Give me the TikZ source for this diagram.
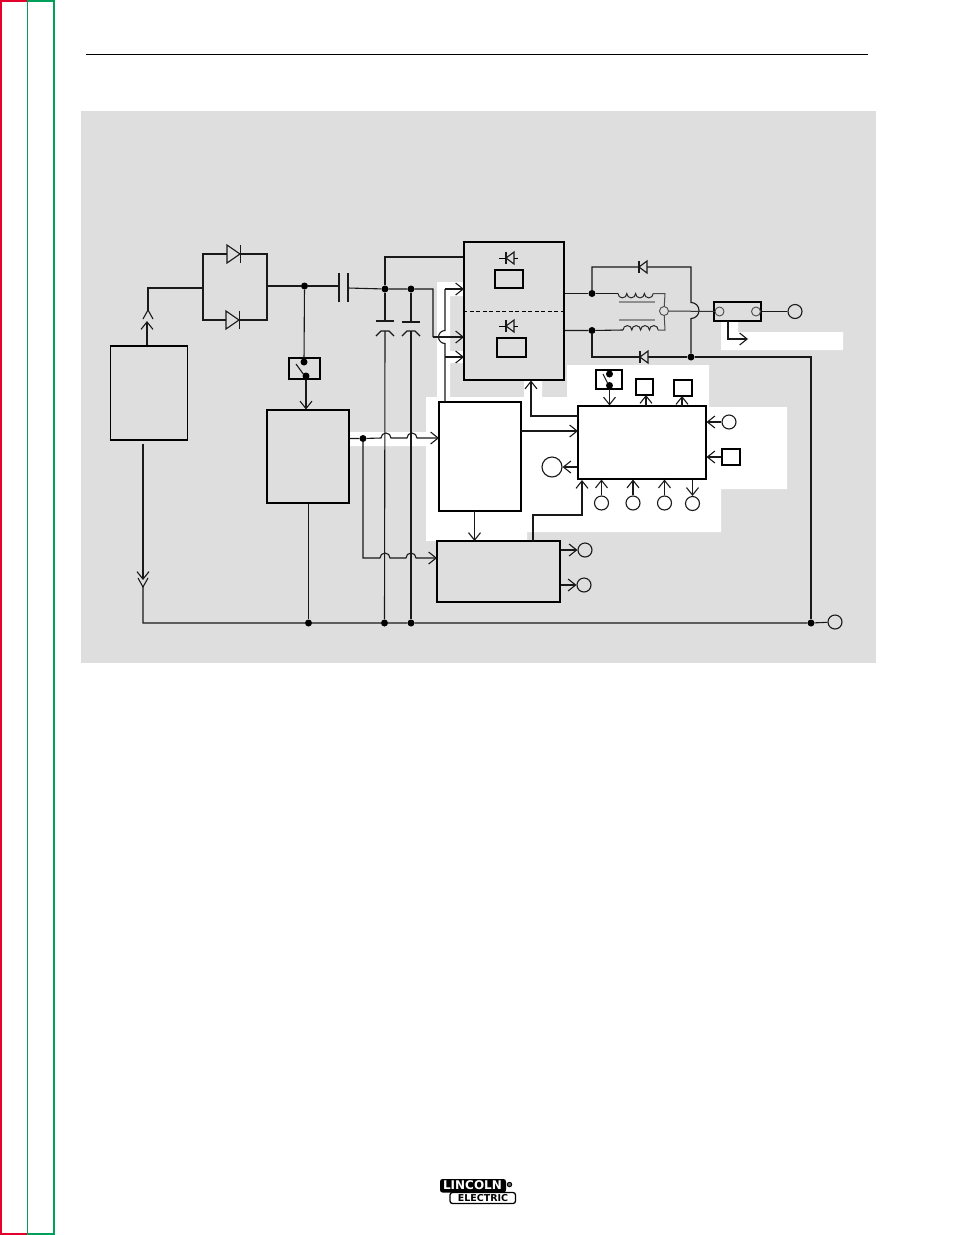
\documentclass[tikz,border=0pt]{standalone}
\usepackage{fontspec}
\setmainfont{DejaVu Sans}
\usetikzlibrary{arrows.meta,calc}
\definecolor{panel}{HTML}{DEDEDE}
\definecolor{framered}{HTML}{E4002B}
\definecolor{framegreen}{HTML}{00A05A}
\definecolor{coregrey}{HTML}{8E8E8E}
\tikzset{
  wire/.style={line width=1.1pt,draw=black!90},
  arrowed/.style={wire,-{Straight Barb[length=7.5pt,width=12pt,line width=1.1pt]}},
  blk/.style={draw=black,line width=1.05pt,inner sep=0pt,rectangle},
  term/.style={draw=black!90,line width=1.1pt,circle,inner sep=0pt,minimum size=14pt},
  smallterm/.style={draw=black!70,line width=.9pt,circle,inner sep=0pt,minimum size=9pt},
  jdot/.style={circle,fill=black,inner sep=0pt,minimum size=7pt},
  pics/diodeR/.style={code={
    \filldraw[wire,fill=panel] (0,-9)--(13,0)--(0,9)--cycle;
    \draw[wire] (13.5,-9)--(13.5,9);}},
  pics/diodeL/.style={code={
    \filldraw[wire,fill=panel] (8,-6)--(0,0)--(8,6)--cycle;
    \draw[wire] (0,-6)--(0,6);}},
  pics/chevUp/.style={code={\draw[wire] (-5,9)--(0,0)--(5,9);}},
  pics/chevDown/.style={code={\draw[wire] (-5,-9)--(0,0)--(5,-9);}},
  pics/coil/.style={code={
    \draw[line width=1pt,draw=black!85] (0,0) arc[start angle=180,end angle=360,radius=4.4pt]
      arc[start angle=180,end angle=360,radius=4.4pt]
      arc[start angle=180,end angle=360,radius=4.4pt]
      arc[start angle=180,end angle=360,radius=4.4pt];}},
  pics/coilB/.style={code={
    \draw[line width=1pt,draw=black!85] (0,0) arc[start angle=180,end angle=0,radius=4.4pt]
      arc[start angle=180,end angle=0,radius=4.4pt]
      arc[start angle=180,end angle=0,radius=4.4pt]
      arc[start angle=180,end angle=0,radius=4.4pt];}},
  pics/capCurved/.style={code={
    \draw[wire] (-9,5) -- (-4,0) -- (4,0) -- (9,5);}},
}
\begin{document}
\begin{tikzpicture}[x=1pt,y=-1pt]
\useasboundingbox (0,0) rectangle (954,1235);
% page frame
\fill[framered] (0,0) rectangle (2,1235);
\fill[framered] (0,0) rectangle (27,2);
\fill[framered] (0,1233) rectangle (27,1235);
\fill[framegreen] (27,0) rectangle (55,2);
\fill[framegreen] (27,1233) rectangle (55,1235);
\fill[framegreen] (27,0) rectangle (28,1235);
\fill[framegreen] (53,0) rectangle (55,1235);
\draw[line width=1pt] (86,54.5) -- (868,54.5);
% panel
\fill[panel] (81,111) rectangle (876,663);
\fill[white] (437,282)--(463,282)--(463,296)--(450,296)--(450,351)--(463,351)--(463,363)--(450,363)
  --(450,397)--(524,397)--(524,381)--(542,381)--(542,397)--(567,397)--(567,365)--(709,365)--(709,407)
  --(787,407)--(787,489)--(721,489)--(721,532)--(527,532)--(527,541)--(426,541)--(426,446)--(350,446)
  --(350,432)--(426,432)--(426,397)--(437,397)--cycle;
\fill[white] (721,321)--(738,321)--(738,332)--(843,332)--(843,350)--(721,350)--cycle;
% blocks
\node[blk,minimum width=77pt,minimum height=94pt] (boxA) at (149,393) {};
\node[blk,minimum width=82pt,minimum height=93pt] (boxB) at (308,456.5) {};
\node[blk,minimum width=100pt,minimum height=138pt] (boxC) at (514,311) {};
\node[blk,minimum width=82pt,minimum height=109pt] (boxE) at (480,456.5) {};
\node[blk,minimum width=123pt,minimum height=61pt] (boxF) at (498.5,571.5) {};
\node[blk,minimum width=128pt,minimum height=73pt] (boxG) at (642,442.5) {};
\node[blk,minimum width=28pt,minimum height=18pt] (rectU) at (509,279) {};
\node[blk,minimum width=29pt,minimum height=19pt] (rectL) at (511.5,347.5) {};
\node[blk,minimum width=47pt,minimum height=19pt] (boxD) at (737.5,311.5) {};
\node[blk,minimum width=31pt,minimum height=21pt] (swA) at (304.5,368.5) {};
\node[blk,minimum width=26pt,minimum height=19pt] (swB) at (609,379.5) {};
\node[blk,minimum width=17pt,minimum height=16pt] (sqA) at (644.5,387) {};
\node[blk,minimum width=18pt,minimum height=16pt] (sqB) at (683,388) {};
\node[blk,minimum width=18pt,minimum height=16pt] (sqC) at (731,457) {};
% terminals
\node[term] (tOut) at (795,311.5) {};
\node[term] (tGnd) at (835,622) {};
\node[term] (tR) at (729,422) {};
\node[term,minimum size=20pt] (tBig) at (552,467) {};
\node[term] (tB1) at (601.5,503) {};
\node[term] (tB2) at (633,503) {};
\node[term] (tB3) at (664.5,503) {};
\node[term] (tB4) at (692.5,503.5) {};
\node[term] (tF1) at (585,550) {};
\node[term] (tF2) at (584,585) {};
\node[smallterm] (tMid) at (664,311) {};
\node[smallterm] (tD1) at (719.5,311.5) {};
\node[smallterm] (tD2) at (756,311.5) {};
% junctions
\node[jdot] (jA) at (304.5,286) {};
\node[jdot] (jC1) at (385,289) {};
\node[jdot] (jC2) at (411,289) {};
\node[jdot] (jB) at (363,438.5) {};
\node[jdot] (jU) at (592,293.5) {};
\node[jdot] (jL) at (592,330.5) {};
\node[jdot] (jR) at (691,357) {};
\node[jdot] (g1) at (308.5,623) {};
\node[jdot] (g2) at (384.5,623) {};
\node[jdot] (g3) at (411,623) {};
\node[jdot] (g4) at (811,623) {};
\node[jdot] (swA1) at (304,362) {};
\node[jdot] (swA2) at (306,376) {};
\node[jdot] (swB1) at (609.5,374) {};
\node[jdot] (swB2) at (609.5,385.5) {};
% named way points
\coordinate (brL) at (203,288);
\coordinate (brTL) at (203,254);
\coordinate (brTR) at (267,254);
\coordinate (brBL) at (203,320);
\coordinate (brBR) at (267,320);
\coordinate (brR) at (267,286);
\coordinate (capA) at (339,286);
\coordinate (capB) at (348,288);
\coordinate (upTip) at (148,310);
\coordinate (upBend) at (148,288);
\coordinate (aUp) at (147,321);
\coordinate (aDown) at (143,444);
\coordinate (dTip) at (143,580);
\coordinate (dTip2) at (143,587);
\coordinate (corner) at (143,623);
\coordinate (pC1) at (385,321);
\coordinate (pC2) at (411,322);
\coordinate (pC1b) at (385,331);
\coordinate (pC2b) at (411,331);
\coordinate (fold) at (385,257);
\coordinate (busX) at (433,289);
\coordinate (busY) at (433,337);
\coordinate (railTop) at (445,289);
\coordinate (railLow) at (445,357);
\coordinate (railHopA) at (445,330.5);
\coordinate (inC1) at (464,289);
\coordinate (inC2) at (464,337);
\coordinate (inC3) at (464,357);
\coordinate (railEnd) at (445,402);
\coordinate (hopA1) at (381,438);
\coordinate (hopA2) at (407,438);
\coordinate (inE) at (439,438);
\coordinate (fBend) at (363,558);
\coordinate (hopB1) at (380,558);
\coordinate (hopB2) at (406,558);
\coordinate (inF) at (437,558);
\coordinate (railR) at (691,267);
\coordinate (railR1) at (691,302.5);
\coordinate (tl) at (592,267);
\coordinate (bl) at (592,357);
\coordinate (railFar) at (811,357);
\coordinate (cU1) at (618,293.5);
\coordinate (cU2) at (653,293.5);
\coordinate (cL1) at (623,330);
\coordinate (cL2) at (658,330);
\coordinate (cRU) at (665,293.5);
\coordinate (cRL) at (665,330);
\coordinate (dOut1) at (728,321);
\coordinate (dOut2) at (728,339);
\coordinate (dOut3) at (748,339);
\coordinate (gcA) at (578,416);
\coordinate (gcB) at (531,416);
\coordinate (gcC) at (531,380.5);
\coordinate (egA) at (521,431);
\coordinate (egB) at (578,431);
\coordinate (efA) at (474.5,511);
\coordinate (efB) at (474.5,541);
\coordinate (fgA) at (533,541);
\coordinate (fgB) at (533,515);
\coordinate (fgC) at (582,515);
\coordinate (fgD) at (582,480);
\coordinate (sqAin) at (646,395);
\coordinate (sqAg) at (646,406);
\coordinate (sqBin) at (682,396);
\coordinate (sqBg) at (682,406);
% input side
\draw[arrowed] (boxA.north -| aUp) -- (aUp);
\draw[wire] (upTip) -- (upBend) -- (brL);
\pic at (upTip) {chevUp};
\draw[wire] (brL) -- (brTL) -- (brTR) -- (brBR) -- (brBL) -- cycle;
\draw[wire] (brR) -- (jA) -- (capA);
\draw[wire] ($(capA)+(0,-13)$) -- ($(capA)+(0,16)$);
\draw[wire] ($(capB)+(0,-15)$) -- ($(capB)+(0,14)$);
\draw[wire] (capB) -- (jC1) -- (jC2) -- (busX) -- (busY);
\draw[wire] (jC1) -- (fold) -- (fold -| boxC.west);
\draw[wire] (jA) -- (swA1);
\pic at (227,254) {diodeR};
\pic at (226,320) {diodeR};
% capacitors
\draw[wire] (jC1) -- (pC1);
\draw[wire] (jC2) -- (pC2);
\draw[wire] ($(pC1)+(-9,0)$) -- ($(pC1)+(9,0)$);
\draw[wire] ($(pC2)+(-9,0)$) -- ($(pC2)+(9,0)$);
\pic at (pC1b) {capCurved};
\pic at (pC2b) {capCurved};
\draw[wire] (pC1b) -- (g2);
\draw[wire] (pC2b) -- (g3);
% control feed
\draw[arrowed] (swA2) -- (swA2 |- boxB.north);
\draw[wire] (296,364) -- (304,375);
\draw[arrowed] (boxB.east |- jB) -- (jB) -- (hopA1) arc[start angle=180,end angle=0,radius=5pt]
  -- (hopA2) arc[start angle=180,end angle=0,radius=5pt] -- (inE);
\draw[arrowed] (jB) -- (fBend) -- (hopB1) arc[start angle=180,end angle=0,radius=5pt]
  -- (hopB2) arc[start angle=180,end angle=0,radius=5pt] -- (inF);
% ground rail
\draw[arrowed] (aDown) -- (dTip);
\pic at (dTip2) {chevDown};
\draw[wire] (dTip2) -- (corner) -- (g1) -- (g2) -- (g3) -- (g4) -- (tGnd);
\draw[wire] (boxB.south -| g1) -- (g1);
% inputs of the main block
\draw[arrowed] (busY) -- (inC2);
\draw[arrowed] (railTop) -- (inC1);
\draw[arrowed] (railLow) -- (inC3);
\draw[wire] (railTop) -- (railHopA) arc[start angle=90,end angle=270,radius=6.5pt] -- (railEnd);
\draw[line width=1pt,dash pattern=on 4pt off 2.5pt] (boxC.west) -- (boxC.east);
\pic at (506,258) {diodeL};
\pic at (506,326) {diodeL};
\draw[line width=1pt] (499,258) -- (506,258) (514,258) -- (518,258);
\draw[line width=1pt] (499,326) -- (506,326) (514,326) -- (518,326);
% output side
\draw[wire] (boxC.east |- jU) -- (jU) -- (cU1);
\draw[wire] (boxC.east |- jL) -- (jL) -- (cL1);
\draw[wire] (jU) -- (tl) -- (railR) -- (railR1) arc[start angle=90,end angle=-90,radius=8pt] -- (jR);
\draw[wire] (jL) -- (bl) -- (jR) -- (railFar) -- (g4);
\pic at (639,267) {diodeL};
\pic at (640,357) {diodeL};
\pic at (cU1) {coil};
\pic at (cL1) {coilB};
\draw[line width=1pt,draw=black!70] (cU2) -- (cRU) -- (tMid);
\draw[line width=1pt,draw=black!70] (cL2) -- (cRL) -- (tMid);
\draw[line width=1.3pt,draw=coregrey] (619,302) -- (655,302);
\draw[line width=1.3pt,draw=coregrey] (619,320) -- (655,320);
\draw[line width=1pt,draw=black!80] (tMid) -- (tD1);
\draw[wire] (boxD.east) -- (tOut);
\draw[arrowed] (dOut1) -- (dOut2) -- (dOut3);
% logic block
\draw[arrowed] (egA) -- (egB);
\draw[arrowed] (efA) -- (efB);
\draw[arrowed] (gcA) -- (gcB) -- (gcC);
\draw[arrowed] (boxG.west |- tBig) -- (tBig);
\draw[arrowed] (fgA) -- (fgB) -- (fgC) -- (fgD);
\draw[arrowed] (swB2) -- (swB2 |- boxG.north);
\draw[wire] (603,374) -- (608,384);
\draw[arrowed] (sqAg) -- (sqAin);
\draw[arrowed] (sqBg) -- (sqBin);
\draw[arrowed] (tR) -- (tR -| boxG.east);
\draw[arrowed] (sqC) -- (sqC -| boxG.east);
\draw[arrowed] (tB1) -- (tB1 |- boxG.south);
\draw[arrowed] (tB2) -- (tB2 |- boxG.south);
\draw[arrowed] (tB3) -- (tB3 |- boxG.south);
\draw[arrowed] (tB4 |- boxG.south) -- (tB4);
\draw[arrowed] (boxF.east |- tF1) -- (tF1);
\draw[arrowed] (boxF.east |- tF2) -- (tF2);
% logo
\fill[black,rounded corners=2.5pt] (440,1179) rectangle (506,1192.5);
\filldraw[draw=black,fill=white,line width=1.3pt,rounded corners=2.5pt] (450,1192.5) rectangle (515.5,1203.5);
\node[text=white,inner sep=0pt,font=\bfseries\fontsize{12}{12}\selectfont] (logoA) at (472.5,1185.5) {LINCOLN};
\node[text=black,inner sep=0pt,font=\bfseries\fontsize{9.5}{9.5}\selectfont] (logoB) at (483,1198) {ELECTRIC};
\node[circle,draw=black,line width=.9pt,fill=black!60,inner sep=0pt,minimum size=4.5pt] (logoC) at (509.5,1184.5) {};
\end{tikzpicture}
\end{document}
